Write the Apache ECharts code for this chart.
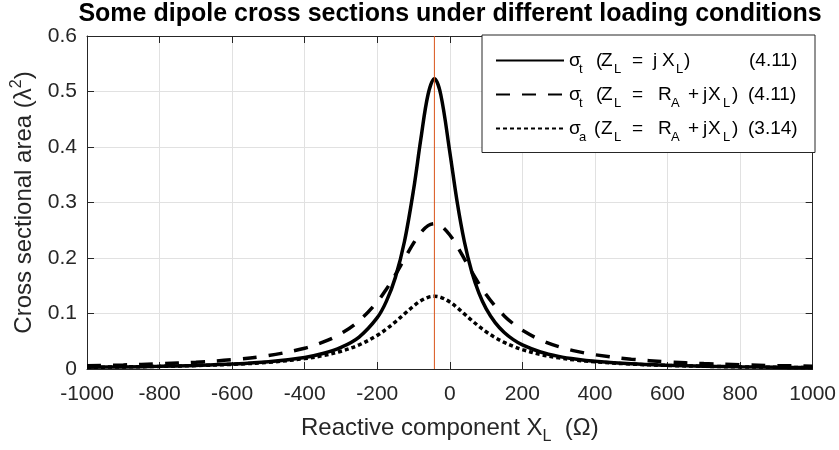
<!DOCTYPE html>
<html>
<head>
<meta charset="utf-8">
<script src="https://cdn.jsdelivr.net/npm/echarts@6/dist/echarts.min.js"></script>
<style>
html,body{margin:0;padding:0;background:#fff;}
#c{width:839px;height:450px;}
</style>
</head>
<body>
<div id="c"></div>
<script>
// ---- data ----
const xValues = [-1000,-900,-800,-700,-600,-500,-400,-350,-300,-250,-200,-175,-150,-125,-100,-80,-60,-42.5,-25,0,20,40,60,80,100,125,150,175,200,250,300,350,400,500,600,700,800,900,1000];
const sigmaT_jX = [0.0030,0.0038,0.0048,0.0064,0.0088,0.0130,0.0209,0.0279,0.0389,0.0576,0.0925,0.1218,0.1651,0.2297,0.3228,0.4138,0.4946,0.5230,0.4946,0.3906,0.3018,0.2297,0.1760,0.1371,0.1087,0.0835,0.0658,0.0530,0.0435,0.0307,0.0227,0.0175,0.0139,0.0093,0.0067,0.0050,0.0039,0.0031,0.0026];
const sigmaT_RjX = [0.0060,0.0074,0.0094,0.0123,0.0168,0.0242,0.0375,0.0482,0.0637,0.0868,0.1211,0.1437,0.1699,0.1986,0.2268,0.2458,0.2583,0.2620,0.2583,0.2415,0.2214,0.1986,0.1755,0.1538,0.1342,0.1131,0.0957,0.0814,0.0697,0.0523,0.0403,0.0318,0.0257,0.0177,0.0129,0.0098,0.0076,0.0061,0.0050];
const sigmaA_RjX = [0.0030,0.0037,0.0047,0.0062,0.0084,0.0121,0.0187,0.0241,0.0319,0.0434,0.0606,0.0719,0.0850,0.0993,0.1134,0.1229,0.1292,0.1310,0.1292,0.1208,0.1107,0.0993,0.0878,0.0769,0.0671,0.0566,0.0479,0.0407,0.0349,0.0262,0.0202,0.0159,0.0129,0.0089,0.0064,0.0049,0.0038,0.0031,0.0025];
const resonanceX = -42.5;
const yRange = [0, 0.6];
const legendNames = ['sT_jX', 'sT_RjX', 'sA_RjX'];
const legendNumbers = ['(4.11)', '(4.11)', '(3.14)'];

const TXT = '#262626';
const FONT = '"Liberation Sans", Arial, Helvetica, sans-serif';
const zip = (xs, ys) => xs.map((x, i) => [x, ys[i]]);

// legend text pieces: [text, token width, isSubscript]
const legendPieces = {
  sT_jX: [['σ',10,0],['t',17,1],['(',5,0],['Z',13,0],['L',18,1],['=',21,0],['j',9,0],['X',14,0],['L',8,1],[')',65,0],[legendNumbers[0],50,0]],
  sT_RjX: [['σ',10,0],['t',17,1],['(',5,0],['Z',13,0],['L',18,1],['=',26,0],['R',13,0],['A',17,1],['+',15,0],['j',5,0],['X',15,0],['L',9,1],[')',16,0],[legendNumbers[1],50,0]],
  sA_RjX: [['σ',10,0],['a',15,1],['(',7,0],['Z',13,0],['L',18,1],['=',26,0],['R',13,0],['A',17,1],['+',15,0],['j',5,0],['X',15,0],['L',9,1],[')',16,0],[legendNumbers[2],50,0]]
};
const legendRich = {};
const legendFmt = {};
Object.keys(legendPieces).forEach(k => {
  legendFmt[k] = legendPieces[k].map(([t, w, sub]) => {
    const key = (sub ? 's' : 'm') + w;
    if (!legendRich[key]) {
      legendRich[key] = sub
        ? {fontSize: 13, lineHeight: 6, verticalAlign: 'bottom', width: w, align: 'left', color: '#000', fontFamily: FONT}
        : {fontSize: 19, lineHeight: 30, width: w, align: 'left', color: '#000', fontFamily: FONT};
    }
    return '{' + key + '|' + t + '}';
  }).join('');
});

const chart = echarts.init(document.getElementById('c'), null, {renderer: 'canvas'});
const axisLineStyle = {show: true, onZero: false, lineStyle: {color: TXT, width: 1}};
const tickStyle = {show: true, inside: true, length: 7, lineStyle: {color: TXT}};
const option = {
  animation: false,
  backgroundColor: '#fff',
  textStyle: {fontFamily: FONT},
  title: {
    text: 'Some dipole cross sections under different loading conditions',
    left: 450, textAlign: 'center', top: 2, padding: 0,
    textStyle: {fontFamily: FONT, fontWeight: 'bold', fontSize: 25, color: '#000'}
  },
  grid: {left: 87, right: 25, top: 36, bottom: 81},
  legend: {
    data: legendNames,
    orient: 'vertical',
    left: 482, top: 35,
    padding: [16, 16, 9, 13],
    itemGap: 9.5,
    itemWidth: 68, itemHeight: 14,
    backgroundColor: '#fff',
    borderColor: TXT, borderWidth: 1, borderRadius: 0,
    itemStyle: {opacity: 0},
    formatter: name => legendFmt[name],
    textStyle: {color: '#000', fontFamily: FONT, rich: legendRich}
  },
  xAxis: [{
    type: 'value', min: -1000, max: 1000, interval: 200, position: 'bottom',
    name: '{n|Reactive component X}{s|L}{n|  (Ω)}',
    nameLocation: 'middle', nameGap: 42,
    nameTextStyle: {
      color: TXT,
      rich: {
        n: {fontSize: 24, lineHeight: 34, color: TXT, fontFamily: FONT},
        s: {fontSize: 16, lineHeight: 8, verticalAlign: 'bottom', color: TXT, fontFamily: FONT}
      }
    },
    axisLine: axisLineStyle,
    axisTick: tickStyle,
    axisLabel: {color: TXT, fontSize: 21, margin: 15, fontFamily: FONT, formatter: v => String(v)},
    splitLine: {show: true, lineStyle: {color: '#e1e1e1', width: 1}}
  }, {
    type: 'value', min: -1000, max: 1000, interval: 200, position: 'top',
    axisLine: axisLineStyle, axisTick: tickStyle,
    axisLabel: {show: false}, splitLine: {show: false}
  }],
  yAxis: [{
    type: 'value', min: yRange[0], max: yRange[1], interval: 0.1, position: 'left',
    name: '{n|Cross sectional area (λ}{p|2}{n|)}',
    nameLocation: 'middle', nameGap: 48,
    nameTextStyle: {
      color: TXT,
      rich: {
        n: {fontSize: 24, lineHeight: 30, color: TXT, fontFamily: FONT},
        p: {fontSize: 16, lineHeight: 16, verticalAlign: 'top', color: TXT, fontFamily: FONT}
      }
    },
    axisLine: axisLineStyle, axisTick: tickStyle,
    axisLabel: {color: TXT, fontSize: 21, margin: 10, fontFamily: FONT, formatter: v => (v === 0 ? '0' : v.toFixed(1))},
    splitLine: {show: true, lineStyle: {color: '#e1e1e1', width: 1}}
  }, {
    type: 'value', min: yRange[0], max: yRange[1], interval: 0.1, position: 'right',
    axisLine: axisLineStyle, axisTick: tickStyle,
    axisLabel: {show: false}, splitLine: {show: false}
  }],
  series: [{
    name: legendNames[0], type: 'line', data: zip(xValues, sigmaT_jX), smooth: 0.35, symbol: 'none',
    lineStyle: {color: '#000', width: 3.5, type: 'solid'}, itemStyle: {color: '#000'}
  }, {
    name: legendNames[1], type: 'line', data: zip(xValues, sigmaT_RjX), smooth: 0.35, symbol: 'none',
    lineStyle: {color: '#000', width: 3.5, type: [14, 12]}, itemStyle: {color: '#000'}
  }, {
    name: legendNames[2], type: 'line', data: zip(xValues, sigmaA_RjX), smooth: 0.35, symbol: 'none',
    lineStyle: {color: '#000', width: 3.5, type: [4, 3]}, itemStyle: {color: '#000'}
  }, {
    name: 'resonance', type: 'line', data: [[resonanceX, yRange[0]], [resonanceX, yRange[1]]], symbol: 'none',
    lineStyle: {color: '#D95319', width: 1, type: 'solid'}, itemStyle: {color: '#D95319'}, z: 3
  }]
};
chart.setOption(option);
</script>
</body>
</html>
